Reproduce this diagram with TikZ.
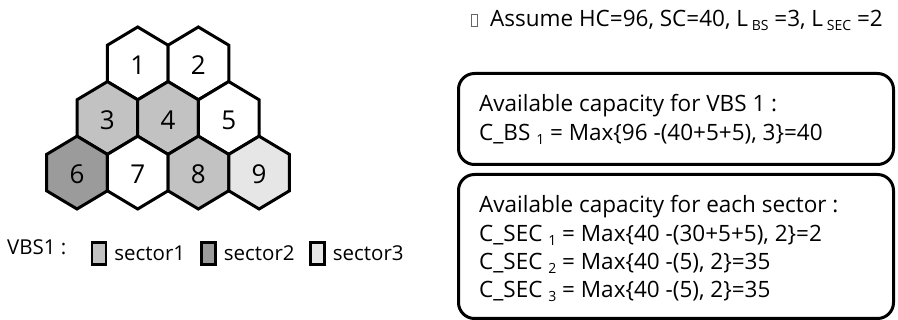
\documentclass[tikz,border=0pt]{standalone}
\usepackage{fontspec}
\setmainfont{Open Sans}
\usetikzlibrary{calc,positioning}
\definecolor{secone}{HTML}{C2C2C2}
\definecolor{sectwo}{HTML}{9B9B9B}
\definecolor{secthree}{HTML}{E6E6E6}
\tikzset{
	hexline/.style={draw=black, line width=3pt},
	cell/.style={inner sep=0pt, font=\fontsize{26}{28}\selectfont},
	legbox/.style={draw=black, line width=2.4pt, minimum width=14pt,
		minimum height=22pt, inner sep=0pt},
	legtext/.style={anchor=west, inner sep=0pt, font=\fontsize{20.5}{24}\selectfont},
	captext/.style={anchor=west, inner sep=0pt, font=\fontsize{22.5}{24}\selectfont},
	capbox/.style={draw=black, line width=3pt, rounded corners=16pt,
		anchor=north west, inner sep=0pt},
}
\newcommand*\lowtxt[1]{\raisebox{-4pt}{\fontsize{14}{14}\selectfont #1}}

\begin{document}
\begin{tikzpicture}[x=1pt, y=-1pt]
\useasboundingbox (0,0) rectangle (898,320);

% the nine cells
\foreach \n/\hx/\hy/\col in {1/137.7/63.4/white, 2/198.4/63.4/white,
	3/107.35/118/secone, 4/168.05/118/secone, 5/228.75/118/white,
	6/77/172.6/sectwo, 7/137.7/172.6/white, 8/198.4/172.6/secone,
	9/259.1/172.6/secthree}{
	\filldraw[hexline, fill=\col] (\hx,\hy) ++(0,-36.4) -- ++(30.35,18.2)
		-- ++(0,36.4) -- ++(-30.35,18.2) -- ++(-30.35,-18.2) -- ++(0,-36.4) -- cycle;
	\node[cell] (h\n) at (\hx,\hy+2) {\n};
}

% legend
\node[legtext] (vbs) at (7,247) {VBS1 :};
\node[legbox, fill=secone] (lgone) at (99,253.5) {};
\node[legtext, right=7pt of lgone] (sone) {sector1};
\node[legbox, fill=sectwo] (lgtwo) at (208.5,253.5) {};
\node[legtext, right=7pt of lgtwo] (stwo) {sector2};
\node[legbox, fill=secthree] (lgthree) at (317.5,253.5) {};
\node[legtext, right=7pt of lgthree] (sthree) {sector3};

% assumptions
\node[draw=black!60, line width=0.7pt, minimum width=6pt, minimum height=12pt,
	inner sep=0pt] (tofu) at (474.5,20) {};
\node[captext] (assume) at (490,20)
	{Assume HC=96, SC=40, L\,\lowtxt{BS} =3, L\,\lowtxt{SEC} =2};

% capacity boxes
\node[capbox, minimum width=435pt, minimum height=91pt] (vbsbox) at (457,72) {};
\node[captext] (vbsa) at (479,106) {Available capacity for VBS 1 :};
\node[captext] (vbsb) at (479,134) {C\_BS \lowtxt{1} = Max\{96 -(40+5+5), 3\}=40};

\node[capbox, minimum width=435pt, minimum height=144pt] (secbox) at (457,173) {};
\node[captext] (seca) at (479,207) {Available capacity for each sector :};
\node[captext] (secb) at (479,235) {C\_SEC \lowtxt{1} = Max\{40 -(30+5+5), 2\}=2};
\node[captext] (secc) at (479,263) {C\_SEC \lowtxt{2} = Max\{40 -(5), 2\}=35};
\node[captext] (secd) at (479,291) {C\_SEC \lowtxt{3} = Max\{40 -(5), 2\}=35};
\end{tikzpicture}
\end{document}
